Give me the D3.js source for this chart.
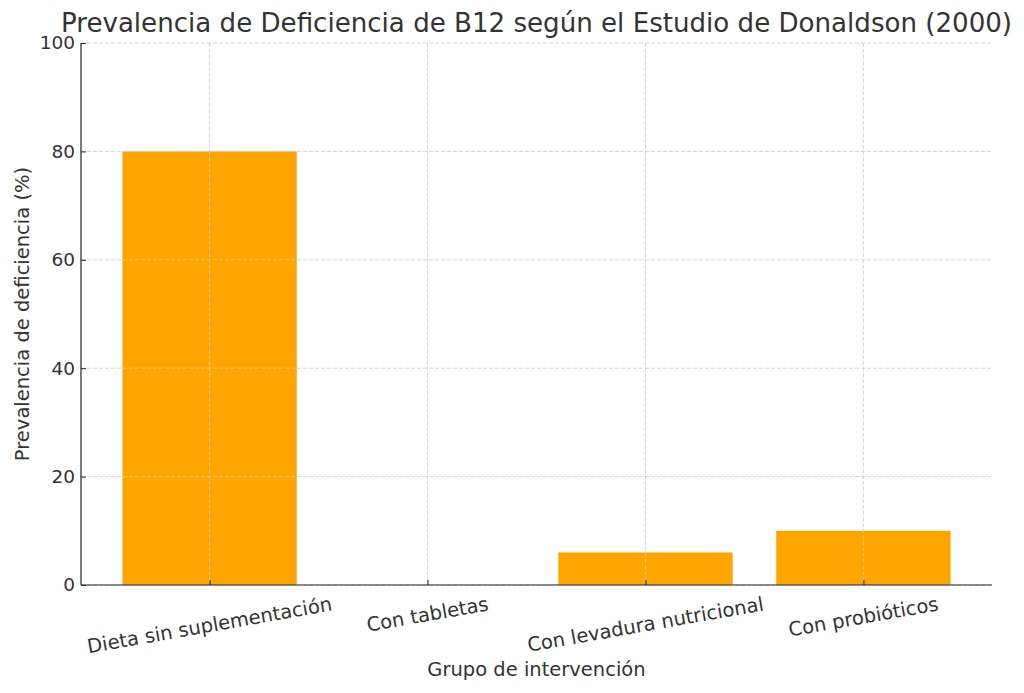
<!DOCTYPE html>
<html>
<head>
<meta charset="utf-8">
<script src="https://cdn.jsdelivr.net/npm/d3@7"></script>
<style>
  body { margin: 0; background: #fff; }
  text { font-family: "DejaVu Sans", sans-serif; fill: #333; }
</style>
</head>
<body>
<div id="chart"></div>
<script>
// data
const categories = ["Dieta sin suplementación", "Con tabletas", "Con levadura nutricional", "Con probióticos"];
const prevalence = [80, 0, 6, 10];
const yTicks = [0, 20, 40, 60, 80, 100];

const W = 1024, H = 693;
const margin = { top: 43, right: 32, bottom: 108, left: 81 };
const innerW = W - margin.left - margin.right;
const innerH = H - margin.top - margin.bottom;

const svg = d3.select("#chart").append("svg")
    .attr("width", W)
    .attr("height", H);

const g = svg.append("g")
    .attr("transform", `translate(${margin.left},${margin.top})`);

// matplotlib-like x limits: bars are 0.8 wide, 5% margin
const n = categories.length;
const lo = -0.4, hi = n - 1 + 0.4, pad = 0.05 * (hi - lo);
const x = d3.scaleLinear().domain([lo - pad, hi + pad]).range([0, innerW]);
const y = d3.scaleLinear().domain([0, 100]).range([innerH, 0]);
const barW = x(0.8) - x(0);

// bars
g.selectAll("rect.bar")
    .data(prevalence)
    .enter().append("rect")
    .attr("class", "bar")
    .attr("x", (d, i) => x(i) - barW / 2)
    .attr("y", d => y(d))
    .attr("width", barW)
    .attr("height", d => y(0) - y(d))
    .style("fill", "#FFA500");

// grid on top of bars
const grid = g.append("g").attr("class", "grid");
yTicks.forEach(t => {
    grid.append("line")
        .attr("x1", 0).attr("x2", innerW)
        .attr("y1", y(t)).attr("y2", y(t))
        .style("stroke", "#ccc")
        .style("stroke-width", 0.8)
        .style("stroke-dasharray", "4,2");
});
categories.forEach((c, i) => {
    grid.append("line")
        .attr("x1", x(i)).attr("x2", x(i))
        .attr("y1", 0).attr("y2", innerH)
        .style("stroke", "#ccc")
        .style("stroke-width", 0.8)
        .style("stroke-dasharray", "4,2");
});

// y axis, ticks pointing inward
const yAxis = g.append("g")
    .call(d3.axisLeft(y).tickValues(yTicks).tickSize(-5).tickPadding(6));
yAxis.select(".domain").attr("d", `M0,0V${innerH}`).style("stroke", "#222").style("stroke-width", 1.2);
yAxis.selectAll(".tick line").style("stroke", "#222");
yAxis.selectAll(".tick text")
    .style("font-size", "18.5px")
    .style("font-family", "DejaVu Sans, sans-serif")
    .style("fill", "#333");

// x axis (labels drawn by hand because they are rotated around their centre)
const xAxis = g.append("g")
    .attr("transform", `translate(0,${innerH})`)
    .call(d3.axisBottom(x).tickValues(d3.range(n)).tickSize(-5).tickFormat(""));
xAxis.select(".domain").attr("d", `M0,0H${innerW}`).style("stroke", "#222").style("stroke-width", 1.2);
xAxis.selectAll(".tick line").style("stroke", "#222");

const angle = 10 * Math.PI / 180;
categories.forEach((c, i) => {
    const t = g.append("text")
        .attr("text-anchor", "middle")
        .attr("dominant-baseline", "central")
        .style("font-size", "19.5px")
        .text(c);
    const w = t.node().getComputedTextLength();
    const h = 22;
    const cy = innerH + 8 + (w * Math.sin(angle) + h * Math.cos(angle)) / 2;
    t.attr("x", x(i)).attr("y", cy)
        .attr("transform", `rotate(-10 ${x(i)} ${cy})`);
});

// axis titles
g.append("text")
    .attr("x", innerW / 2)
    .attr("y", innerH + 91)
    .attr("text-anchor", "middle")
    .style("font-size", "19.5px")
    .text("Grupo de intervención");

g.append("text")
    .attr("transform", `translate(${-52},${innerH / 2}) rotate(-90)`)
    .attr("text-anchor", "middle")
    .style("font-size", "19.5px")
    .text("Prevalencia de deficiencia (%)");

// title
svg.append("text")
    .attr("x", margin.left + innerW / 2)
    .attr("y", 32)
    .attr("text-anchor", "middle")
    .style("font-size", "26.1px")
    .text("Prevalencia de Deficiencia de B12 según el Estudio de Donaldson (2000)");
</script>
</body>
</html>
